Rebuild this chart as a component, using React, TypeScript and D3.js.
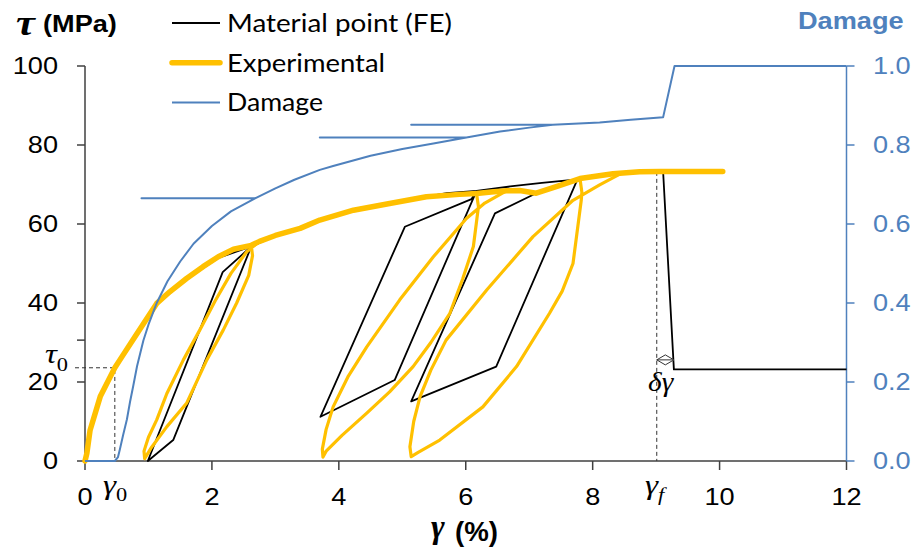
import React from "react";
import * as d3 from "d3";

type Pt = [number, number];

const W = 916;
const H = 549;

// Axis ticks
const strainTicks = [0, 2, 4, 6, 8, 10, 12];
const stressTicks = [0, 20, 40, 60, 80, 100];
const damageTicks = [0, 0.2, 0.4, 0.6, 0.8, 1.0];
const extraStressTick = 30.6;

// Characteristic points (strain in %, stress in MPa)
const gamma0 = 0.47;
const tau0 = 23.6;
const gammaF = 9.01;
const tauF = 73.2;
const gammaDrop = 9.28;
const tauArrow = 25.6;

// Material point (FE) response, in path order
const feResponse: Pt[] = [
  [0, 0], [0.08, 7.6], [0.24, 16.1], [0.47, 23.4], [0.8, 31.6], [1.13, 39.7], [1.6, 46],
  [2.1, 51.4], [2.62, 54.3],
  [1.39, 5.3], [0.99, 0], [2.17, 47.8], [2.62, 54.3],
  [3.0, 57.0], [3.39, 58.8], [3.7, 60.9], [4.23, 63.4], [4.8, 65.2], [5.38, 66.9], [5.7, 67.8], [6.17, 68.4],
  [4.88, 20.5], [3.71, 11.2], [5.04, 59.3], [6.09, 66.3], [6.17, 68.4],
  [6.7, 69.5], [7.2, 70.4], [7.76, 71.3],
  [6.48, 23.9], [5.14, 15.1], [6.46, 62.7], [7.11, 67.8], [7.76, 71.3],
  [8.3, 72.5], [8.8, 73.1], [9.11, 73.3],
  [9.28, 23.2], [12, 23.2],
];

// Experimental response: loading envelope
const expEnvelope1: Pt[] = [
  [0, 0], [0.03, 2], [0.08, 7.8], [0.24, 16.3], [0.47, 23.6], [0.55, 25.6], [0.8, 31.8],
  [1.13, 39.9], [1.34, 42.9], [1.6, 46.2], [1.86, 49.2], [2.1, 51.7], [2.34, 53.6], [2.62, 54.6],
  [2.75, 55.6], [3.0, 57.1], [3.39, 58.9], [3.7, 61], [4.23, 63.5], [4.8, 65.2],
  [5.38, 66.9], [5.9, 67.5], [6.17, 67.7], [6.4, 68.1], [6.64, 68.4],
  [6.85, 68.5], [7.11, 67.8], [7.45, 69.6], [7.8, 71.5], [8.32, 72.7], [8.74, 73.2],
  [9.06, 73.3], [10.05, 73.3],
];

// Experimental response: unloading / reloading cycles
const expCycle1: Pt[] = [
  [2.62, 54.6], [2.64, 52], [2.58, 47], [2.39, 40], [2.18, 33.2], [1.92, 25.6], [1.6, 14.6],
  [1.29, 8.7], [1.05, 3.5], [0.94, 0.6], [0.93, 2.5], [1.0, 6], [1.13, 10.4], [1.29, 17.1],
  [1.55, 25.6], [1.81, 33.2], [2.05, 40.5], [2.3, 47.5], [2.55, 53], [2.75, 55.6],
];
const expCycle2: Pt[] = [
  [6.17, 67.7], [6.2, 64.4], [6.12, 54.3], [5.95, 46], [5.75, 37.4], [5.45, 30], [5.17, 23.9],
  [4.8, 17.5], [4.44, 12.1], [4.05, 6.5], [3.8, 2.5], [3.75, 1.0], [3.74, 3], [3.8, 8],
  [3.91, 13.7], [4.15, 21.5], [4.44, 28.9], [4.96, 40.8], [5.49, 51.7], [6.01, 61.4],
  [6.3, 65.3], [6.64, 68.4],
];
const expCycle3: Pt[] = [
  [7.8, 71.5], [7.83, 68], [7.82, 66], [7.69, 50], [7.52, 43], [7.32, 37.4], [6.8, 23.9],
  [6.27, 13.7], [5.59, 5.3], [5.25, 2.2], [5.14, 1.1], [5.12, 3.6], [5.18, 10], [5.28, 16.3],
  [5.45, 23], [5.69, 30.6], [6.33, 43.3], [7.06, 56.8], [7.69, 66], [8.11, 69.9], [8.45, 72.8],
];

// Damage evolution, in path order (plateaus = constant damage while unloading)
const damage: Pt[] = [
  [0, 0], [0.47, 0], [0.52, 0.01], [0.55, 0.03], [0.6, 0.065], [0.66, 0.105], [0.71, 0.15],
  [0.76, 0.19], [0.82, 0.24], [0.92, 0.305], [1.0, 0.345], [1.13, 0.4], [1.3, 0.455],
  [1.5, 0.505], [1.71, 0.55], [2.0, 0.595], [2.3, 0.632], [2.68, 0.665],
  [0.89, 0.665], [2.68, 0.665],
  [3.0, 0.69], [3.3, 0.712], [3.7, 0.737], [3.91, 0.747], [4.5, 0.773], [5.0, 0.79],
  [5.49, 0.804], [6.01, 0.819],
  [3.7, 0.819], [6.01, 0.819],
  [6.54, 0.834], [7.0, 0.844], [7.37, 0.851],
  [5.14, 0.851], [7.37, 0.851],
  [8.11, 0.857], [8.6, 0.864], [9.11, 0.87], [9.29, 1.0], [12, 1.0],
];

const legendItems = [
  { label: "Material point (FE)", color: "#000000", width: 1.8, textLen: 225 },
  { label: "Experimental", color: "#FFC000", width: 5.5, textLen: 158 },
  { label: "Damage", color: "#4F81BD", width: 2, textLen: 96 },
];

const SX = 1.18;
const BLUE = "#4F81BD";
const YELLOW = "#FFC000";
const AXIS = "#404040";
const SANS = "'Liberation Sans', Arial, sans-serif";
const SERIF = "'Liberation Serif', 'Times New Roman', serif";

const x = d3.scaleLinear().domain([0, 12]).range([85, 846.5]);
const y = d3.scaleLinear().domain([0, 100]).range([461, 66]);
const yD = d3.scaleLinear().domain([0, 1]).range([461, 66]);

const lineXY = d3.line<Pt>().x((d) => x(d[0])).y((d) => y(d[1]));
const lineDamage = d3.line<Pt>().x((d) => x(d[0])).y((d) => yD(d[1]));

function SText(props: {
  x: number; y: number; anchor?: string; size: number; weight?: string | number;
  family?: string; fill?: string; italic?: boolean; children: React.ReactNode;
}) {
  return (
    <text
      transform={`translate(${props.x},${props.y}) scale(${SX},1)`}
      textAnchor={props.anchor || "start"}
      fontSize={props.size}
      fontWeight={props.weight || "normal"}
      fontStyle={props.italic ? "italic" : "normal"}
      fontFamily={props.family || SANS}
      fill={props.fill || "#000"}
    >
      {props.children}
    </text>
  );
}

export default function App() {
  const dash = "4,3";
  const xm = (x(gammaF) + x(gammaDrop)) / 2;
  return (
    <svg
      width={W}
      height={H}
      viewBox={`0 0 ${W} ${H}`}
      style={{ position: "absolute", left: 0, top: 0, background: "#fff" }}
    >
      <rect width={W} height={H} fill="#fff" />

      {/* Left axis */}
      <line x1={x(0)} x2={x(0)} y1={y(100)} y2={y(0)} stroke={AXIS} strokeWidth={1.5} />
      {stressTicks.map((t) => (
        <g key={`ly${t}`}>
          <line x1={x(0) - 8} x2={x(0)} y1={y(t)} y2={y(t)} stroke={AXIS} strokeWidth={1.5} />
          <SText x={58} y={y(t) + 8.3} anchor="end" size={23}>{t}</SText>
        </g>
      ))}
      <line x1={x(0) - 8} x2={x(0)} y1={y(extraStressTick)} y2={y(extraStressTick)} stroke={AXIS} strokeWidth={1.5} />

      {/* Bottom axis */}
      <line x1={x(0)} x2={x(12)} y1={y(0)} y2={y(0)} stroke={AXIS} strokeWidth={1.5} />
      {strainTicks.map((t) => (
        <g key={`bx${t}`}>
          <line x1={x(t)} x2={x(t)} y1={y(0)} y2={y(0) + 9} stroke={AXIS} strokeWidth={1.5} />
          <SText x={x(t)} y={505} anchor="middle" size={23}>{t}</SText>
        </g>
      ))}

      {/* Right (damage) axis */}
      <line x1={x(12)} x2={x(12)} y1={yD(1)} y2={yD(0)} stroke={BLUE} strokeWidth={1.5} />
      {damageTicks.map((t) => (
        <g key={`ry${t}`}>
          <line x1={x(12)} x2={x(12) + 8} y1={yD(t)} y2={yD(t)} stroke={BLUE} strokeWidth={1.5} />
          <SText x={873} y={yD(t) + 8.3} size={23} fill={BLUE}>{t.toFixed(1)}</SText>
        </g>
      ))}

      {/* Axis titles */}
      <text
        transform={`translate(16,35) scale(${SX},1)`}
        fontFamily={SERIF}
        fontSize={36}
        fontWeight="bold"
        fontStyle="italic"
      >
        τ
      </text>
      <SText x={43} y={32} size={23} weight="bold">(MPa)</SText>
      <SText x={798} y={29} size={23} weight="bold" fill={BLUE}>Damage</SText>
      <text
        x={431}
        y={538}
        fontFamily={SERIF}
        fontSize={33}
        fontWeight="bold"
        fontStyle="italic"
      >
        γ
      </text>
      <text
        x={455}
        y={541}
        fontFamily={SANS}
        fontSize={27}
        fontWeight="bold"
        textLength={43}
        lengthAdjust="spacingAndGlyphs"
      >
        (%)
      </text>

      {/* Reference lines for τ0/γ0 and γf */}
      <path
        d={`M${x(0) - 10},${y(tau0)}H${x(gamma0)}V${y(0)}`}
        fill="none"
        stroke="#333"
        strokeWidth={1}
        strokeDasharray={dash}
      />
      <path
        d={`M${x(gammaF)},${y(tauF)}V${y(0)}`}
        fill="none"
        stroke="#333"
        strokeWidth={1}
        strokeDasharray={dash}
      />

      {/* FE response */}
      <path d={lineXY(feResponse) || ""} fill="none" stroke="#000" strokeWidth={1.8} strokeLinejoin="round" />

      {/* Experimental response */}
      {[expCycle1, expCycle2, expCycle3].map((c, i) => (
        <path key={`c${i}`} d={lineXY(c) || ""} fill="none" stroke={YELLOW} strokeWidth={3.2} strokeLinejoin="round" strokeLinecap="round" />
      ))}
      <path d={lineXY(expEnvelope1) || ""} fill="none" stroke={YELLOW} strokeWidth={5.5} strokeLinejoin="round" strokeLinecap="round" />

      {/* Damage */}
      <path d={lineDamage(damage) || ""} fill="none" stroke={BLUE} strokeWidth={2} strokeLinejoin="round" />

      {/* δγ double arrow */}
      <g stroke="#333" strokeWidth={1} fill="#fff">
        <path
          d={`M${x(gammaF)},${y(tauArrow)}L${xm},${y(tauArrow) - 5}L${x(gammaDrop)},${y(tauArrow)}L${xm},${y(tauArrow) + 5}Z`}
        />
        <line x1={x(gammaF)} x2={x(gammaDrop)} y1={y(tauArrow)} y2={y(tauArrow)} />
      </g>

      {/* Annotations */}
      <text transform={`translate(45,363) scale(${SX},1)`} fontFamily={SERIF} fontSize={28} fontStyle="italic">
        τ<tspan fontSize={19} fontStyle="normal" dy={8}>0</tspan>
      </text>
      <text transform={`translate(103,494) scale(${SX},1)`} fontFamily={SERIF} fontSize={28} fontStyle="italic">
        γ<tspan fontSize={19} fontStyle="normal" dy={7}>0</tspan>
      </text>
      <text transform={`translate(645,494) scale(${SX},1)`} fontFamily={SERIF} fontSize={28} fontStyle="italic">
        γ<tspan fontSize={19} dy={7}>f</tspan>
      </text>
      <text transform={`translate(648,391) scale(1.05,1)`} fontFamily={SERIF} fontSize={28} fontStyle="italic">
        δγ
      </text>

      {/* Legend */}
      {legendItems.map((it, i) => {
        const ly = 23 + i * 39.7;
        return (
          <g key={it.label}>
            <line x1={172} x2={220} y1={ly} y2={ly} stroke={it.color} strokeWidth={it.width} strokeLinecap={i === 1 ? "round" : "butt"} />
            <text
              x={227}
              y={ly + 8.8}
              fontFamily="Lato, 'Open Sans', sans-serif"
              fontSize={25}
              textLength={it.textLen}
              lengthAdjust="spacingAndGlyphs"
              fill="#000"
            >
              {it.label}
            </text>
          </g>
        );
      })}
    </svg>
  );
}
